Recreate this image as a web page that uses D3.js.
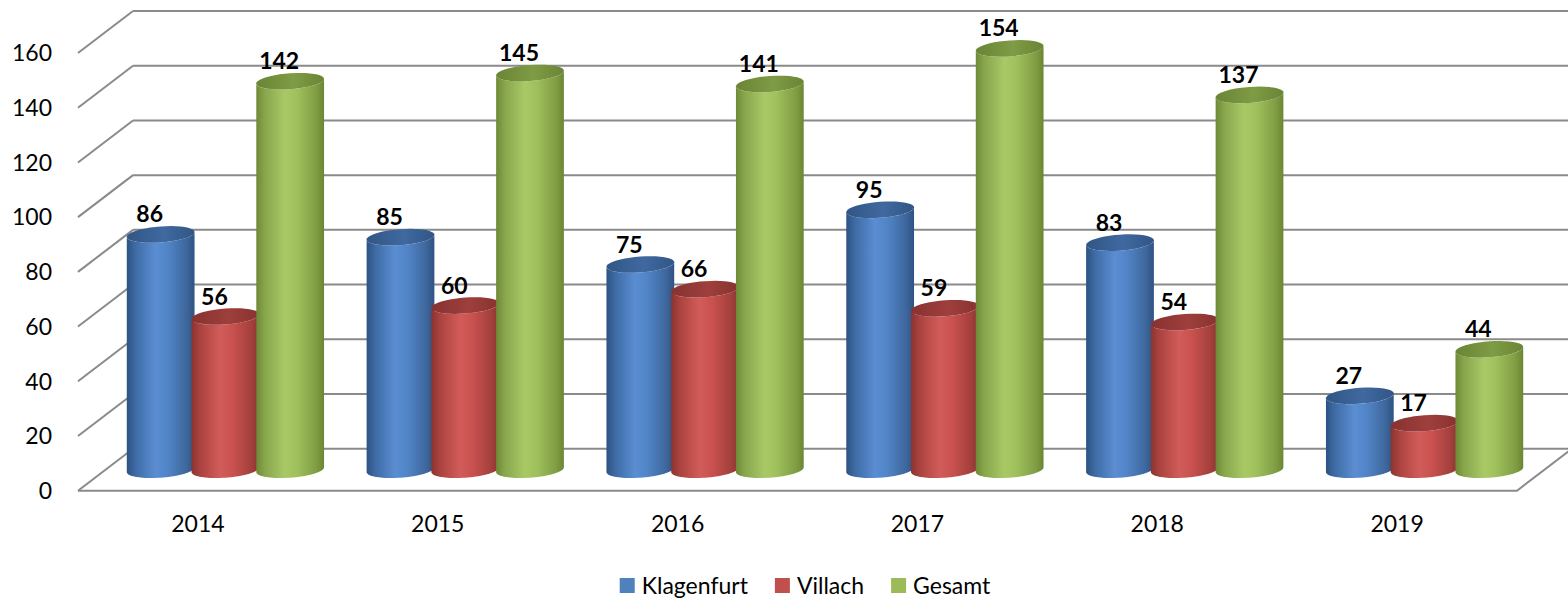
<!DOCTYPE html>
<html>
<head>
<meta charset="utf-8">
<script src="https://cdn.jsdelivr.net/npm/d3@7"></script>
<style>
  html, body { margin: 0; padding: 0; background: #fff; }
  svg { display: block; font-family: Lato, "Open Sans", sans-serif; }
</style>
</head>
<body>
<svg id="chart" width="1568" height="599"></svg>
<script>

// Data
var years = ['2014', '2015', '2016', '2017', '2018', '2019'];
var seriesNames = ['Klagenfurt', 'Villach', 'Gesamt'];
var klagenfurt = [86, 85, 75, 95, 83, 27];
var villach = [56, 60, 66, 59, 54, 17];
var gesamt = [142, 145, 141, 154, 137, 44];
var yTicks = [0, 20, 40, 60, 80, 100, 120, 140, 160];

var seriesValues = [klagenfurt, villach, gesamt];

// Look
var colors = {
    Klagenfurt: { body: ['#2d5182', '#3d6aa3', '#5a8dd2', '#5185c8', '#3e679c', '#2f5283'], top: ['#315685', '#4069a0'] },
    Villach:    { body: ['#8a3331', '#a9423f', '#d25c59', '#c9524f', '#a4403d', '#8b3432'], top: ['#883230', '#9e3f3c'] },
    Gesamt:     { body: ['#6e8937', '#87a54b', '#a8c966', '#9fc05c', '#819e44', '#6c8634'], top: ['#6a8534', '#7e9b45'] }
};
var legendColors = ['#4f81bd', '#c0504d', '#9bbb59'];
var stopOffsets = [0, 0.12, 0.42, 0.6, 0.88, 1];

// 3D frame setup vars (back wall + depth offset toward the viewer)
var backLeft = 133;
var backRight = 1572;
var backTop = 11;
var backBottom = 448.7;
var depthX = -55;
var depthY = 42;
var barDepth = 0.5;
var ry = 8;
var shear = 0.07;
var fontSize = 23;

var svg = d3.select('#chart');
var defs = svg.append('defs');

var y = d3.scaleLinear().domain([0, 160]).range([backBottom, backTop]);

var x0 = d3.scaleBand()
    .domain(years)
    .range([backLeft, backRight])
    .paddingInner(0.19)
    .paddingOuter(0.095);

var x1 = d3.scaleBand()
    .domain(seriesNames)
    .range([0, x0.bandwidth()]);

var gridColor = '#8a8a8a';

// gradients
seriesNames.forEach(function(name) {
    var gBody = defs.append('linearGradient')
        .attr('id', 'body-' + name)
        .attr('x1', 0).attr('x2', 1).attr('y1', 0).attr('y2', 0);
    colors[name].body.forEach(function(c, i) {
        gBody.append('stop').attr('offset', stopOffsets[i]).attr('stop-color', c);
    });

    var gTop = defs.append('linearGradient')
        .attr('id', 'top-' + name)
        .attr('x1', 0).attr('x2', 1).attr('y1', 0).attr('y2', 0);
    gTop.append('stop').attr('offset', 0).attr('stop-color', colors[name].top[0]);
    gTop.append('stop').attr('offset', 0.55).attr('stop-color', colors[name].top[1]);
    gTop.append('stop').attr('offset', 1).attr('stop-color', colors[name].top[0]);
});

// back wall gridlines + side wall diagonals
var grid = svg.append('g').attr('class', 'grid');

grid.selectAll('.hline')
    .data(yTicks)
    .enter()
    .append('line')
    .attr('x1', backLeft)
    .attr('x2', 1568)
    .attr('y1', function(d) { return y(d); })
    .attr('y2', function(d) { return y(d); })
    .attr('stroke', gridColor)
    .attr('stroke-width', 2);

grid.selectAll('.dline')
    .data(yTicks)
    .enter()
    .append('line')
    .attr('x1', backLeft + depthX)
    .attr('x2', backLeft)
    .attr('y1', function(d) { return y(d) + depthY; })
    .attr('y2', function(d) { return y(d); })
    .attr('stroke', gridColor)
    .attr('stroke-width', 2);

// floor: front edge and right edge
grid.append('path')
    .attr('d', d3.line()([
        [backLeft + depthX, y(0) + depthY],
        [backRight + depthX, y(0) + depthY],
        [backRight, y(0)]
    ]))
    .attr('fill', 'none')
    .attr('stroke', gridColor)
    .attr('stroke-width', 2);

// y axis labels
svg.append('g')
    .selectAll('text')
    .data(yTicks)
    .enter()
    .append('text')
    .attr('x', 52)
    .attr('y', function(d) { return y(d) + depthY; })
    .attr('dy', '0.36em')
    .attr('text-anchor', 'end')
    .attr('font-size', fontSize)
    .attr('fill', '#000')
    .text(function(d) { return d; });

// x axis labels (front edge)
svg.append('g')
    .selectAll('text')
    .data(years)
    .enter()
    .append('text')
    .attr('x', function(d) { return x0(d) + x0.bandwidth() / 2 + depthX; })
    .attr('y', y(0) + depthY + 41)
    .attr('text-anchor', 'middle')
    .attr('font-size', fontSize)
    .attr('fill', '#000')
    .text(function(d) { return d; });

// cylinders
var bars = [];
years.forEach(function(yr, i) {
    seriesNames.forEach(function(name, j) {
        bars.push({ year: yr, series: name, value: seriesValues[j][i] });
    });
});

var ellipsePoint = function(cx, cy, rx, t) {
    return [cx + rx * Math.cos(t), cy + ry * Math.sin(t) - shear * rx * Math.cos(t)];
};

var arcPoints = function(cx, cy, rx, t0, t1) {
    var pts = [];
    var n = 40;
    for (var k = 0; k <= n; k++) {
        pts.push(ellipsePoint(cx, cy, rx, t0 + (t1 - t0) * k / n));
    }
    return pts;
};

var geom = function(d) {
    var cx = x0(d.year) + x1(d.series) + x1.bandwidth() / 2 + depthX * barDepth;
    var rx = x1.bandwidth() / 2 + 1.5;
    var top = y(d.value) + depthY * barDepth;
    var bot = y(0) + depthY * barDepth;
    return { cx: cx, rx: rx, top: top, bot: bot };
};

var line = d3.line();

var cyl = svg.append('g').attr('class', 'cylinders')
    .selectAll('g')
    .data(bars)
    .enter()
    .append('g');

cyl.append('path')
    .attr('d', function(d) {
        var g = geom(d);
        var pts = arcPoints(g.cx, g.bot, g.rx, Math.PI, 0)
            .concat(arcPoints(g.cx, g.top, g.rx, 0, Math.PI));
        return line(pts) + 'Z';
    })
    .attr('fill', function(d) { return 'url(#body-' + d.series + ')'; });

cyl.append('path')
    .attr('d', function(d) {
        var g = geom(d);
        return line(arcPoints(g.cx, g.top, g.rx, 0, 2 * Math.PI)) + 'Z';
    })
    .attr('fill', function(d) { return 'url(#top-' + d.series + ')'; });

// value labels
svg.append('g')
    .selectAll('text')
    .data(bars)
    .enter()
    .append('text')
    .attr('x', function(d) { return geom(d).cx - 11; })
    .attr('y', function(d) { return geom(d).top - ry - 4; })
    .attr('text-anchor', 'middle')
    .attr('font-size', fontSize)
    .attr('font-weight', 'bold')
    .attr('fill', '#000')
    .text(function(d) { return d.value; });

// legend
var legend = svg.append('g').attr('class', 'legend');
var lx = 0;
seriesNames.forEach(function(name, i) {
    var it = legend.append('g');
    it.append('rect')
        .attr('x', 0).attr('y', -7.5)
        .attr('width', 15).attr('height', 15)
        .attr('fill', legendColors[i]);
    var t = it.append('text')
        .attr('x', 22)
        .attr('dy', '0.36em')
        .attr('font-size', fontSize)
        .attr('fill', '#000')
        .text(name);
    it.attr('transform', 'translate(' + lx + ',0)');
    lx += 22 + t.node().getComputedTextLength() + 27;
});
lx -= 27;
legend.attr('transform', 'translate(' + (805 - lx / 2) + ',585.5)');

</script>
</body>
</html>
